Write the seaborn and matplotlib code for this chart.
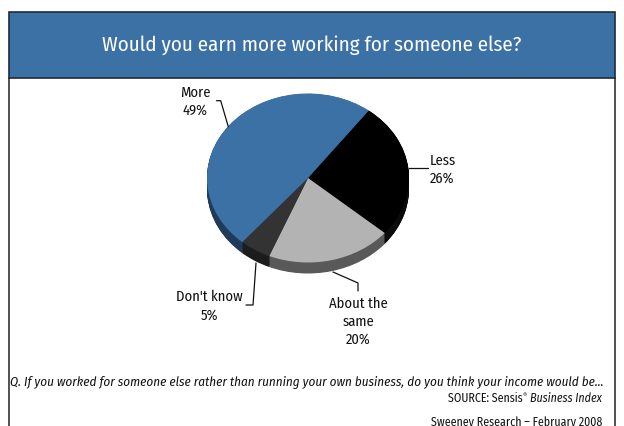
import numpy as np
import pandas as pd
import seaborn as sns
import matplotlib.pyplot as plt
from matplotlib.lines import Line2D
from matplotlib.patches import Rectangle

# Survey answers, clockwise from the upper right of the pie
categories = ["Less", "About the same", "Don't know", "More"]
shares = [26, 20, 5, 49]
top_colors = ["#000000", "#b3b3b3", "#333333", "#3c71a6"]
side_colors = ["#0b0b0b", "#595959", "#1c1c1c", "#1f3b58"]

title = "Would you earn more working for someone else?"
question = ("Q. If you worked for someone else rather than running your own business, "
            "do you think your income would be...")

sns.set_theme(style="white")
FONT = ["Fira Sans Condensed", "DejaVu Sans"]
plt.rcParams["font.family"] = FONT
INK = "#111111"

W, H = 624, 426
fig = plt.figure(figsize=(W / 100, H / 100), dpi=100)
fig.patch.set_facecolor("white")


def fx(x):
    return x / W


def fy(y):
    return 1 - y / H


# Frame and title band
fig.add_artist(Rectangle((fx(8.5), fy(78)), (615 - 8.5) / W, 66 / H,
                         transform=fig.transFigure, facecolor="#3c71a6",
                         edgecolor="#1d2b3a", linewidth=1.2))
for xx in (8.5, 615):
    fig.add_artist(Line2D([fx(xx), fx(xx)], [fy(78), fy(430)],
                          transform=fig.transFigure, color="#222222", lw=1.1))
fig.text(fx(312), fy(51), title, color="white", fontsize=15.1,
         ha="center", va="baseline")

# Tilted pie: ellipse centred at (308,178), radii 101 x 84.5 px
cx, cy, rx, ry = 308, 178, 101, 84.5
ax = fig.add_axes([fx(cx - rx), fy(cy + ry), 2 * rx / W, 2 * ry / H])
depth = 11 / ry
for k in np.linspace(depth, 0.004, 16):
    ax.pie(shares, colors=side_colors, startangle=53, counterclock=False,
           center=(0, -k), radius=1, wedgeprops=dict(linewidth=0))
ax.pie(shares, colors=top_colors, startangle=53, counterclock=False,
       center=(0, 0), radius=1, wedgeprops=dict(linewidth=0))
ax.set_aspect("auto")
ax.set_xlim(-1, 1)
ax.set_ylim(-1, 1)
ax.axis("off")
for p in ax.patches:
    p.set_clip_on(False)

# Labels (centre x, first baseline y, line step) with leader lines
label_pos = {
    "More": (195, 97, 18),
    "Less": (442.5, 165, 17.5),
    "Don't know": (209, 301, 19),
    "About the same": (358.5, 308, 18),
}
label_lines = {
    "More": ["More"],
    "Less": ["Less"],
    "Don't know": ["Don't know"],
    "About the same": ["About the", "same"],
}
leaders = {
    "More": [(216.5, 100.7), (220.7, 100.7), (228.3, 126.7)],
    "Less": [(409, 168), (428, 168)],
    "Don't know": [(256, 263), (253, 305), (246, 305)],
    "About the same": [(333, 272), (358, 283), (358, 291)],
}
for cat, val in zip(categories, shares):
    x, y0, step = label_pos[cat]
    rows = label_lines[cat] + [f"{val}%"]
    for i, row in enumerate(rows):
        fig.text(fx(x), fy(y0 + i * step), row, fontsize=10.5,
                 ha="center", va="baseline", color=INK)
    pts = leaders[cat]
    fig.add_artist(Line2D([fx(p[0]) for p in pts], [fy(p[1]) for p in pts],
                          transform=fig.transFigure, color=INK, lw=0.9))

# Question and source notes
fig.text(fx(10), fy(386), question, fontsize=9.45, style="italic",
         ha="left", va="baseline", color=INK)

renderer = fig.canvas.get_renderer()
t_it = fig.text(fx(602), fy(402), "Business Index", fontsize=8.6,
                style="italic", ha="right", va="baseline", color=INK)
bb = t_it.get_window_extent(renderer)
x_left = bb.x0 / fig.dpi / fig.get_figwidth()
t_r = fig.text(x_left - 3 / W, fy(397), "®", fontsize=5.5, ha="right",
               va="baseline", color=INK)
bb2 = t_r.get_window_extent(renderer)
x_left2 = bb2.x0 / fig.dpi / fig.get_figwidth()
fig.text(x_left2, fy(402), "SOURCE: Sensis", fontsize=8.6, ha="right",
         va="baseline", color=INK)
fig.text(fx(602), fy(426.5), "Sweeney Research \u2013 February 2008", fontsize=8.6,
         ha="right", va="baseline", color=INK)

fig.savefig("out.png", dpi=100)
